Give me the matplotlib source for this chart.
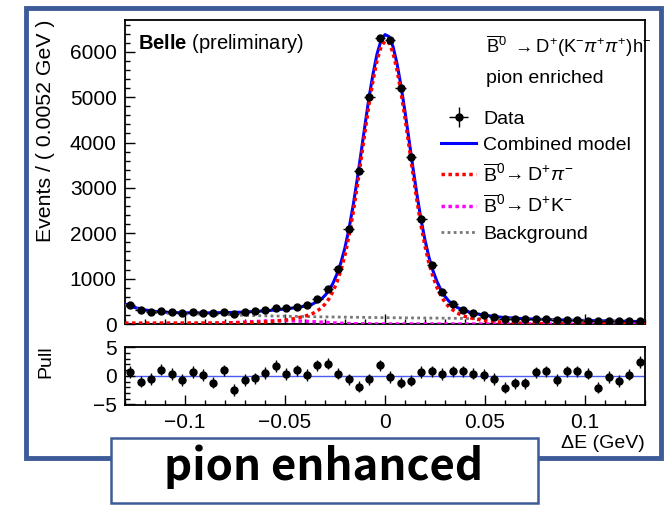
import numpy as np
import matplotlib
matplotlib.use('Agg')
import matplotlib.pyplot as plt
from matplotlib.patches import Rectangle
from matplotlib.ticker import MultipleLocator

plt.rcParams['font.family'] = ['Liberation Sans', 'DejaVu Sans']
plt.rcParams['mathtext.fontset'] = 'custom'
plt.rcParams['mathtext.rm'] = 'Liberation Sans'
plt.rcParams['mathtext.it'] = 'Liberation Sans:italic'
plt.rcParams['mathtext.bf'] = 'Liberation Sans:bold'

# binning: 50 bins of 0.0052 GeV
edges = np.linspace(-0.13, 0.13, 51)
centers = 0.5 * (edges[:-1] + edges[1:])

# data counts per bin
counts = [418, 308, 272, 286, 257, 235, 257, 250, 235, 264,
          220, 257, 279, 301, 352, 345, 380, 412, 544, 775,
          1220, 2085, 3378, 5000, 6300, 6255, 5195, 3690, 2308, 1290,
          705, 438, 305, 240, 198, 161, 117, 110, 103, 117,
          110, 88, 88, 88, 73, 59, 59, 59, 66, 73]

pulls = [0.69, -1.03, -0.57, 1.09, 0.34, -0.75, 0.69, 0.11, -1.2, 0.98,
         -2.47, -0.75, -0.46, 0.52, 1.72, 0.34, 0.98, 0.11, 1.84, 2.13,
         0.4, -0.63, -1.9, -0.63, 1.84, -0.17, -1.2, -0.86, 0.69, 0.8,
         0.34, 0.8, 0.8, 0.4, 0.11, -0.52, -2.07, -1.32, -1.32, 0.63,
         0.8, -0.69, 0.8, 0.8, 0.4, -2.07, -0.17, -0.92, 0.23, 2.41]

# fit components sampled along dE
curve_x = [-0.130, -0.125, -0.120, -0.115, -0.110, -0.105, -0.100, -0.090,
           -0.080, -0.070, -0.060, -0.050, -0.045, -0.040, -0.036, -0.032,
           -0.030, -0.028, -0.026, -0.024, -0.022, -0.020, -0.018, -0.016,
           -0.014, -0.012, -0.010, -0.008, -0.006, -0.004, -0.002,
           0.000, 0.002, 0.004, 0.006, 0.008, 0.010, 0.012, 0.014,
           0.016, 0.018, 0.020, 0.022, 0.024, 0.026, 0.028, 0.030,
           0.032, 0.036, 0.040, 0.045, 0.050, 0.055, 0.060, 0.070,
           0.080, 0.090, 0.100, 0.110, 0.120, 0.130]
sig_dpi = [20, 20, 20, 21, 21, 21, 22, 22, 23, 32, 44, 84, 122, 172, 234, 346,
           438, 557, 719, 929, 1191, 1525, 1943, 2439, 3005, 3617, 4239, 4844,
           5365, 5808, 6108,
           6239, 6195, 5977, 5602, 5109, 4541, 3924, 3300, 2707, 2170, 1715,
           1334, 1041, 804, 617, 479,
           373, 242, 167, 111, 75, 52, 32, 14, 7, 5, 5, 5, 5, 5]
sig_dk = [0, 0, 0, 0, 1, 2, 3, 8, 22, 41, 65, 75, 68, 60, 50, 40,
          35, 30, 25, 20, 16, 12, 9, 7, 5, 4, 3, 2, 1, 1, 0,
          0, 0, 0, 0, 0, 0, 0, 0, 0, 0, 0, 0, 0, 0, 0, 0,
          0, 0, 0, 0, 0, 0, 0, 0, 0, 0, 0, 0, 0, 0]
bkg = [420, 342, 290, 257, 239, 228, 221, 215, 206, 190, 180, 172, 168, 164, 161, 158,
       157, 156, 155, 154, 152, 151, 150, 149, 148, 147, 146, 144, 143, 142, 141,
       140, 139, 138, 138, 137, 136, 135, 134, 134, 133, 132, 131, 130, 130, 129, 128,
       127, 125, 122, 119, 116, 113, 110, 102, 93, 83, 73, 64, 55, 47]
other_x = [-0.13, 0.0, 0.13]
other_y = [4, 4, 4]

total = np.array(sig_dpi) + np.array(sig_dk) + np.array(bkg)

fig = plt.figure(figsize=(6.66, 5.05), dpi=100)
ax = fig.add_axes([0.1877, 0.3584, 0.7808, 0.602])
axp = fig.add_axes([0.1877, 0.198, 0.7808, 0.1155])

ax.plot(curve_x, total, color='#0000ff', lw=2.2, zorder=3)
ax.plot(other_x, other_y, color='#008800', lw=1.5, ls=(0, (3, 2)), zorder=2)
ax.plot(curve_x, bkg, color='#777777', lw=2.0, ls=(0, (1, 1.2)), zorder=4)
ax.plot(curve_x, sig_dk, color='#ff00ff', lw=2.5, ls=(0, (1, 1)), zorder=4)
ax.plot(curve_x, sig_dpi, color='#ff0000', lw=2.5, ls=(0, (1, 1)), zorder=4)
eb = ax.errorbar(centers, counts, yerr=np.sqrt(counts), xerr=0.0026, fmt='o',
                 color='k', ms=5, elinewidth=1, capsize=0, zorder=5)

ax.set_xlim(-0.13, 0.13)
ax.set_ylim(0, 6700)
ax.xaxis.set_major_locator(MultipleLocator(0.05))
ax.xaxis.set_minor_locator(MultipleLocator(0.01))
ax.yaxis.set_major_locator(MultipleLocator(1000))
ax.yaxis.set_minor_locator(MultipleLocator(200))
ax.tick_params(labelbottom=False)

axp.axhline(0, color='#4a5cf5', lw=1, zorder=1)
axp.errorbar(centers, pulls, yerr=1, fmt='o', color='k', ms=5,
             elinewidth=1, capsize=0, zorder=3)
axp.set_xlim(-0.13, 0.13)
axp.set_ylim(-5.1, 5.1)
axp.xaxis.set_major_locator(MultipleLocator(0.05))
axp.xaxis.set_minor_locator(MultipleLocator(0.01))
axp.yaxis.set_major_locator(MultipleLocator(5))
axp.yaxis.set_minor_locator(MultipleLocator(1))
axp.set_xticks([-0.1, -0.05, 0, 0.05, 0.1])
axp.set_xticklabels(['\u22120.1', '\u22120.05', '0', '0.05', '0.1'])

for a in (ax, axp):
    for s in a.spines.values():
        s.set_linewidth(1.3)
    a.tick_params(which='both', direction='in', labelsize=15, pad=6, width=1)
    a.tick_params(which='major', length=7)
    a.tick_params(which='minor', length=3.5)

ax.text(0.025, 0.924, r'$\mathbf{Belle}$ (preliminary)', transform=ax.transAxes,
        fontsize=14.5, va='center', ha='left')
ax.text(0.694, 0.8924,
        r'$\overline{\mathrm{B}}^{0}$ $\rightarrow$D$^{+}$(K$^{-}\pi^{+}\pi^{+}$)h$^{-}$',
        transform=ax.transAxes, fontsize=13.2, va='baseline', ha='left')
ax.text(0.694, 0.792, 'pion enriched', transform=ax.transAxes,
        fontsize=14, va='baseline', ha='left')

h_tot = plt.Line2D([], [], color='#0000ff', lw=2.2)
h_dpi = plt.Line2D([], [], color='#ff0000', lw=2.5, ls=(0, (1, 1)))
h_dk = plt.Line2D([], [], color='#ff00ff', lw=2.5, ls=(0, (1, 1)))
h_bkg = plt.Line2D([], [], color='#777777', lw=2.0, ls=(0, (1, 1.2)))
ax.legend([eb, h_tot, h_dpi, h_dk, h_bkg],
          ['Data', 'Combined model',
           r'$\overline{\mathrm{B}}^{0}\!\rightarrow$D$^{+}\pi^{-}$',
           r'$\overline{\mathrm{B}}^{0}\!\rightarrow$D$^{+}$K$^{-}$',
           'Background'],
          loc='upper left', bbox_to_anchor=(0.608, 0.703), frameon=False,
          fontsize=14, handlelength=1.8, handletextpad=0.35,
          labelspacing=0.44, borderpad=0, borderaxespad=0)

fig.text(46 / 666, 1 - 20 / 505, 'Events / ( 0.0052 GeV )', rotation=90,
         ha='center', va='top', fontsize=15.3)
fig.text(46 / 666, 1 - 345 / 505, 'Pull', rotation=90, ha='center', va='top',
         fontsize=14)
fig.text(645 / 666, 1 - 444 / 505, '\u0394E (GeV)', ha='right', va='center',
         fontsize=14)

# slide frame and caption box
frame_col = '#3d5b99'
fig.patches.append(Rectangle((26 / 666, 1 - 458 / 505), 635 / 666, 450 / 505,
                             transform=fig.transFigure, fill=False,
                             ec=frame_col, lw=3.5, zorder=10))
fig.patches.append(Rectangle((111 / 666, 1 - 503 / 505), 427 / 666, 65 / 505,
                             transform=fig.transFigure, fc='white',
                             ec=frame_col, lw=1.8, zorder=11))
fig.text(324 / 666, 1 - 480 / 505, 'pion enhanced', ha='center', va='baseline',
         fontsize=31.5, fontweight='bold',
         family=['Noto Sans CJK JP', 'DejaVu Sans'], zorder=12)

fig.savefig('out.png', dpi=100)
